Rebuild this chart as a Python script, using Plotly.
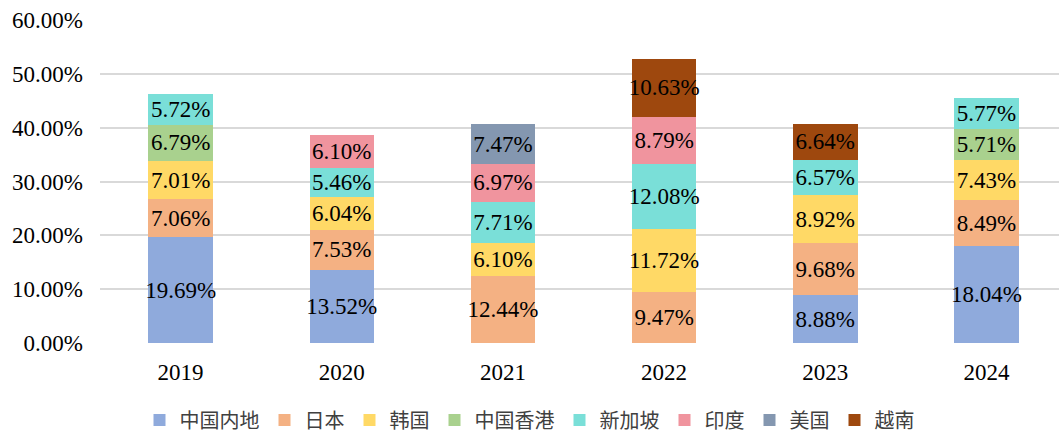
import plotly.graph_objects as go

years = ["2019", "2020", "2021", "2022", "2023", "2024"]
series_names = ["中国内地", "日本", "韩国", "中国香港", "新加坡", "印度", "美国", "越南"]
mainland = [19.69, 13.52, None, None, 8.88, 18.04]
japan = [7.06, 7.53, 12.44, 9.47, 9.68, 8.49]
korea = [7.01, 6.04, 6.10, 11.72, 8.92, 7.43]
hongkong = [6.79, None, None, None, None, 5.71]
singapore = [5.72, 5.46, 7.71, 12.08, 6.57, 5.77]
india = [None, 6.10, 6.97, 8.79, None, None]
usa = [None, None, 7.47, None, None, None]
vietnam = [None, None, None, 10.63, 6.64, None]
y_ticks = [0, 10, 20, 30, 40, 50, 60]
y_tick_labels = ["0.00%", "10.00%", "20.00%", "30.00%", "40.00%", "50.00%", "60.00%"]

values = [mainland, japan, korea, hongkong, singapore, india, usa, vietnam]
colors = ["#8FAADC", "#F4B183", "#FFD966", "#A9D18E", "#7ADFD8", "#F0949E", "#8497B0", "#9E480E"]

num_font = "Liberation Serif"
cjk_font = "Noto Sans CJK SC"

fig = go.Figure()
for name, vals, col in zip(series_names, values, colors):
    fig.add_trace(go.Bar(
        x=years, y=vals, name=name,
        marker=dict(color=col, line=dict(width=0)),
        texttemplate="%{y:.2f}%",
        textposition="inside",
        insidetextanchor="middle",
        textangle=0,
        constraintext="none",
        textfont=dict(family=num_font, size=23, color="#000000"),
        hoverinfo="skip",
    ))

fig.update_layout(
    barmode="stack",
    bargap=0.6,
    width=1059, height=433,
    margin=dict(l=100, r=0, t=20, b=90),
    paper_bgcolor="white",
    plot_bgcolor="white",
    xaxis=dict(
        range=[-0.5, 5.45],
        tickfont=dict(family=num_font, size=23, color="#000000"),
        showgrid=False, zeroline=False, showline=False,
        ticks="", ticklabelstandoff=13, automargin=False,
    ),
    yaxis=dict(
        range=[0, 60],
        tickvals=y_ticks, ticktext=y_tick_labels,
        tickfont=dict(family=num_font, size=23, color="#000000"),
        showgrid=True, gridcolor="#D9D9D9", gridwidth=1.5,
        zeroline=False, showline=False,
        ticks="", ticklabelstandoff=16, automargin=False,
    ),
    legend=dict(
        orientation="h",
        xref="container", yref="container",
        x=0.5, xanchor="center",
        y=0.03, yanchor="middle",
        font=dict(family=cjk_font, size=20, color="#404040"),
        traceorder="normal",
        itemwidth=30,
        tracegroupgap=0,
    ),
    showlegend=True,
)

fig.write_html(
    "out.html",
    config={"displayModeBar": False},
    post_script="document.body.style.margin='0';document.body.style.overflow='hidden';",
)
